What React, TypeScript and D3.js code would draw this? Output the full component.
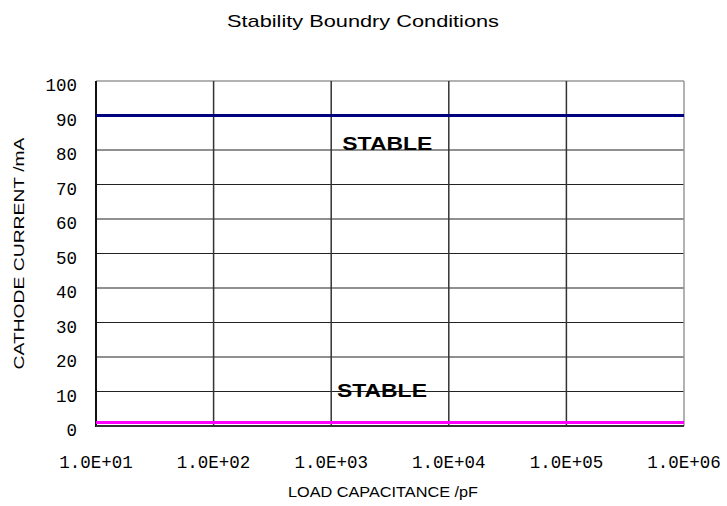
import React from "react";
import * as d3 from "d3";

const title = "Stability Boundry Conditions";
const xTitle = "LOAD CAPACITANCE /pF";
const yTitle = "CATHODE CURRENT /mA";

const xTicks = [1e1, 1e2, 1e3, 1e4, 1e5, 1e6];
const xTickLabels = ["1.0E+01", "1.0E+02", "1.0E+03", "1.0E+04", "1.0E+05", "1.0E+06"];
const yTicks = [0, 10, 20, 30, 40, 50, 60, 70, 80, 90, 100];

const upperX = [1e1, 1e6];
const upperY = [90, 90];
const lowerX = [1e1, 1e6];
const lowerY = [1, 1];

const annotationText = ["STABLE", "STABLE"];
const annotationX = [3000, 2700];
const annotationY = [80, 8.5];

const W = 727;
const H = 506;
const left = 96;
const right = 684;
const top = 81;
const bottom = 426;

export default function App() {
  const x = d3.scaleLog().domain([1e1, 1e6]).range([left, right]);
  const y = d3.scaleLinear().domain([0, 100]).range([bottom, top]);
  const line = d3
    .line<[number, number]>()
    .x((d) => x(d[0]))
    .y((d) => y(d[1]));
  const upper = upperX.map((v, i) => [v, upperY[i]] as [number, number]);
  const lower = lowerX.map((v, i) => [v, lowerY[i]] as [number, number]);

  return (
    <svg
      width={W}
      height={H}
      style={{ position: "absolute", left: 0, top: 0, background: "#fff" }}
    >
      <rect x={0} y={0} width={W} height={H} fill="#fff" />
      <text
        x={363}
        y={27}
        textAnchor="middle"
        fontFamily="Liberation Sans, Arial, sans-serif"
        fontSize={17}
        textLength={272}
        lengthAdjust="spacingAndGlyphs"
        fill="#000"
      >
        {title}
      </text>
      {/* horizontal grid */}
      {yTicks.map((t) => (
        <line
          key={"h" + t}
          x1={left}
          x2={right}
          y1={y(t)}
          y2={y(t)}
          stroke={t === 100 ? "#999" : "#222"}
          strokeWidth={t === 100 ? 1.5 : 1.2}
        />
      ))}
      {/* vertical grid */}
      {xTicks.map((t) => (
        <line
          key={"v" + t}
          x1={x(t)}
          x2={x(t)}
          y1={top}
          y2={bottom}
          stroke={t === 1e6 ? "#999" : "#333"}
          strokeWidth={1.5}
        />
      ))}
      {/* axes */}
      <line x1={left} x2={left} y1={top} y2={bottom + 1} stroke="#111" strokeWidth={2} />
      <line x1={left} x2={right} y1={bottom} y2={bottom} stroke="#333" strokeWidth={2} />
      {/* series */}
      <path d={line(upper) || ""} stroke="#000080" strokeWidth={3} fill="none" />
      <path d={line(lower) || ""} stroke="#FF00FF" strokeWidth={3} fill="none" />
      {/* annotations */}
      {annotationText.map((s, i) => (
        <text
          key={"a" + i}
          x={x(annotationX[i])}
          y={y(annotationY[i])}
          textAnchor="middle"
          fontFamily="Liberation Sans, Arial, sans-serif"
          fontWeight="bold"
          fontSize={19}
          textLength={90}
          lengthAdjust="spacingAndGlyphs"
          fill="#000"
        >
          {s}
        </text>
      ))}
      {/* y tick labels */}
      {yTicks.map((t) => (
        <text
          key={"yl" + t}
          x={77}
          y={y(t) + 10}
          textAnchor="end"
          fontFamily="Liberation Mono, DejaVu Sans Mono, monospace"
          fontSize={17.5}
          fill="#000"
        >
          {t}
        </text>
      ))}
      {/* x tick labels */}
      {xTicks.map((t, i) => (
        <text
          key={"xl" + t}
          x={x(t)}
          y={468}
          textAnchor="middle"
          fontFamily="Liberation Mono, DejaVu Sans Mono, monospace"
          fontSize={17.5}
          fill="#000"
        >
          {xTickLabels[i]}
        </text>
      ))}
      <text
        x={383}
        y={497}
        textAnchor="middle"
        fontFamily="Liberation Sans, Arial, sans-serif"
        fontSize={14}
        textLength={190}
        lengthAdjust="spacingAndGlyphs"
        fill="#000"
      >
        {xTitle}
      </text>
      <text
        transform={`translate(24, ${(top + bottom) / 2}) rotate(-90)`}
        textAnchor="middle"
        fontFamily="Liberation Sans, Arial, sans-serif"
        fontSize={14}
        textLength={232}
        lengthAdjust="spacingAndGlyphs"
        fill="#000"
      >
        {yTitle}
      </text>
    </svg>
  );
}
